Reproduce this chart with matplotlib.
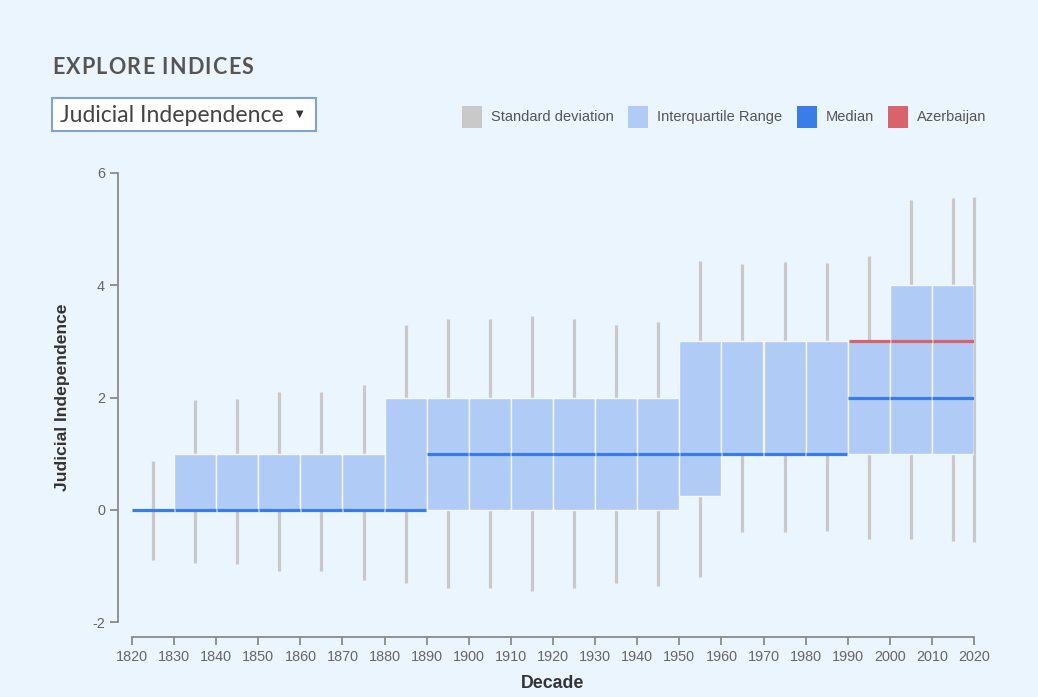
import numpy as np
import matplotlib
matplotlib.use("Agg")
import matplotlib.pyplot as plt
from matplotlib.patches import Rectangle

plt.rcParams["axes.unicode_minus"] = False

# decade start years
decades = np.array([1820, 1830, 1840, 1850, 1860, 1870, 1880, 1890, 1900, 1910, 1920,
                    1930, 1940, 1950, 1960, 1970, 1980, 1990, 2000, 2010, 2020])
q1 = [0, 0, 0, 0, 0, 0, 0, 0, 0, 0, 0, 0, 0, 0.25, 1, 1, 1, 1, 1, 1, 1]
q3 = [0, 1, 1, 1, 1, 1, 2, 2, 2, 2, 2, 2, 2, 3, 3, 3, 3, 3, 4, 4, 4]
median = [0, 0, 0, 0, 0, 0, 0, 1, 1, 1, 1, 1, 1, 1, 1, 1, 1, 2, 2, 2, 2]
sd_low = [-0.89, -0.95, -0.97, -1.1, -1.1, -1.25, -1.3, -1.4, -1.4, -1.45, -1.4,
          -1.3, -1.35, -1.2, -0.39, -0.4, -0.38, -0.52, -0.52, -0.55, -0.57]
sd_high = [0.87, 1.95, 1.97, 2.1, 2.1, 2.22, 3.3, 3.4, 3.4, 3.45, 3.4,
           3.3, 3.35, 4.43, 4.38, 4.42, 4.4, 4.52, 5.52, 5.55, 5.57]
country_decades = np.array([1990, 2000, 2010])
country_values = [3, 3, 3]

bg = "#ebf5fd"
c_sd = "#c9c9c9"
c_iqr = "#b0ccf6"
c_med = "#3b7de8"
c_az = "#d9636a"

fig = plt.figure(figsize=(10.38, 6.97), dpi=100, facecolor=bg)
W, H = 1038, 697
ax = fig.add_axes([132 / W, 1 - 622 / H, (974 - 132) / W, (622 - 173) / H])
ax.set_facecolor(bg)

# standard deviation whiskers (behind boxes)
wx = np.clip(decades + 5, 1820, 2020)
ax.vlines(wx, sd_low, sd_high, color=c_sd, lw=2.3, zorder=1, clip_on=False)

# interquartile range boxes
ax.bar(decades, np.array(q3) - np.array(q1), bottom=q1, width=10, align="edge",
       color=c_iqr, edgecolor="#f4f8fe", linewidth=1.0, zorder=2)

# medians
ax.hlines(median, decades + 0.1, decades + 9.9, color=c_med, lw=2.3, zorder=3)

# country line
ax.hlines(country_values, country_decades + 0.2, country_decades + 10, color=c_az,
          lw=2.3, zorder=4)

ax.set_xlim(1820, 2020)
ax.set_ylim(-2, 6)
ax.set_xticks(np.arange(1820, 2021, 10))
ax.set_yticks([-2, 0, 2, 4, 6])
for s in ["top", "right"]:
    ax.spines[s].set_visible(False)
ax.spines["left"].set_position(("outward", 10))
ax.spines["bottom"].set_position(("outward", 11))
for s in ["left", "bottom"]:
    ax.spines[s].set_color("#8a8a8a")
    ax.spines[s].set_linewidth(1.3)
ax.tick_params(axis="both", colors="#8a8a8a", labelcolor="#666666", labelsize=10.4,
               length=6, width=1.3)
for lab in ax.get_xticklabels() + ax.get_yticklabels():
    lab.set_family("Liberation Sans")

fig.text(553 / W, 1 - 683 / H, "Decade", ha="center", va="center", fontsize=12.8,
         fontweight="bold", color="#333333", family="Liberation Sans")
fig.text(62 / W, 1 - 397 / H, "Judicial Independence", ha="center", va="center",
         rotation=90, fontsize=12.6, fontweight="bold", color="#333333",
         family="Liberation Sans")

# header, drawn letter by letter to get the wide tracking
renderer = fig.canvas.get_renderer()
x = 52.0
for ch in "EXPLORE INDICES":
    t = fig.text(x / W, 1 - 67 / H, ch, ha="left", va="center", fontsize=15.5,
                 fontweight="bold", color="#555555", family="Lato")
    w = t.get_window_extent(renderer).width if ch != " " else 5.0
    x += w + 1.2

fig.patches.append(Rectangle((52 / W, 1 - 131 / H), (316 - 52) / W, (131 - 98) / H,
                             transform=fig.transFigure, facecolor="white",
                             edgecolor="#7fa3d8", linewidth=1.5))
fig.text(60 / W, 1 - 115 / H, "Judicial Independence", ha="left", va="center",
         fontsize=16.6, color="#444444", family="Lato")
fig.text(300 / W, 1 - 114 / H, "\u25bc", ha="center", va="center", fontsize=7,
         color="#333333", family="DejaVu Sans")

# legend
legend_items = [("Standard deviation", c_sd, 462), ("Interquartile Range", c_iqr, 628),
                ("Median", c_med, 797), ("Azerbaijan", c_az, 888)]
for label, col, x0 in legend_items:
    fig.patches.append(Rectangle((x0 / W, 1 - 128 / H), 20 / W, 22 / H,
                                 transform=fig.transFigure, facecolor=col,
                                 edgecolor="none"))
    fig.text((x0 + 29) / W, 1 - 117 / H, label, ha="left", va="center", fontsize=10.5,
             color="#555555", family="Liberation Sans")

fig.savefig("out.png", dpi=100, facecolor=bg)
